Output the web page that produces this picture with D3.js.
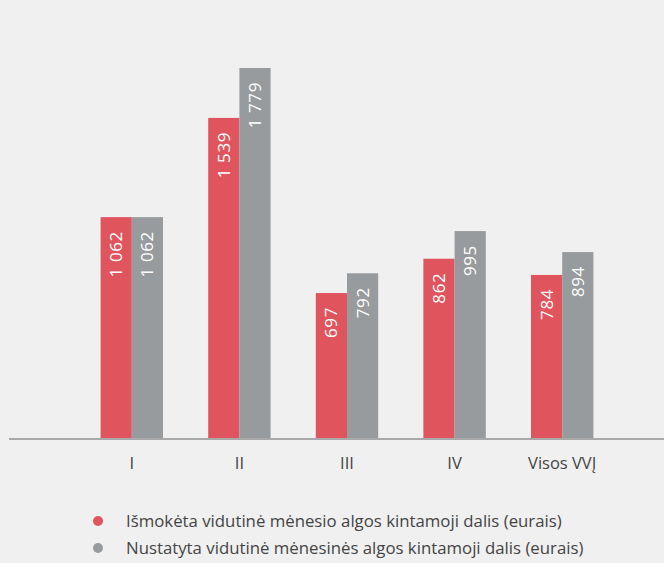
<!DOCTYPE html>
<html>
<head>
<meta charset="utf-8">
<script src="https://cdn.jsdelivr.net/npm/d3@7"></script>
<style>
  html, body { margin: 0; padding: 0; background: #f0f0f0; }
  svg { display: block; font-family: "Open Sans", Lato, sans-serif; }
</style>
</head>
<body>
<svg id="chart" width="664" height="563"></svg>
<script>
const categories = ['I', 'II', 'III', 'IV', 'Visos VVĮ'];
const paid = [1062, 1539, 697, 862, 784];
const set = [1062, 1779, 792, 995, 894];
const seriesNames = [
  'Išmokėta vidutinė mėnesio algos kintamoji dalis (eurais)',
  'Nustatyta vidutinė mėnesinės algos kintamoji dalis (eurais)'
];
const colors = ['#e0555d', '#989b9d'];

const svg = d3.select('#chart');
const baseY = 438;

const x = d3.scaleBand().domain(categories).range([78, 616]).paddingInner(0.42).paddingOuter(0.21);
const sub = d3.scaleBand().domain([0, 1]).range([0, x.bandwidth()]);
const y = d3.scaleLinear().domain([0, 1779]).range([baseY, 68]);

const fmt = v => d3.format(',')(v).replace(',', ' ');

const rows = categories.map((c, i) => ({ cat: c, vals: [paid[i], set[i]] }));

const groups = svg.selectAll('g.grp')
  .data(rows)
  .join('g')
  .attr('class', 'grp')
  .attr('transform', d => `translate(${x(d.cat)},0)`);

groups.selectAll('rect')
  .data(d => d.vals.map((v, k) => ({ v, k })))
  .join('rect')
  .attr('x', d => sub(d.k))
  .attr('width', sub.bandwidth())
  .attr('y', d => y(d.v))
  .attr('height', d => baseY - y(d.v))
  .attr('fill', d => colors[d.k]);

groups.selectAll('text.val')
  .data(d => d.vals.map((v, k) => ({ v, k })))
  .join('text')
  .attr('class', 'val')
  .attr('transform', d => `translate(${sub(d.k) + sub.bandwidth() / 2 + 6},${y(d.v) + 14}) rotate(-90)`)
  .attr('text-anchor', 'end')
  .attr('fill', '#fff')
  .attr('font-size', 17)
  .attr('letter-spacing', 0.6)
  .text(d => fmt(d.v));

// baseline
svg.append('line')
  .attr('x1', 9).attr('x2', 664)
  .attr('y1', baseY + 1).attr('y2', baseY + 1)
  .attr('stroke', '#a9a9a9')
  .attr('stroke-width', 2);

// category labels
svg.selectAll('text.cat')
  .data(categories)
  .join('text')
  .attr('class', 'cat')
  .attr('x', d => x(d) + x.bandwidth() / 2)
  .attr('y', 469)
  .attr('text-anchor', 'middle')
  .attr('fill', '#444')
  .attr('font-size', 16.5)
  .text(d => d);

// legend
const legend = svg.selectAll('g.leg')
  .data(seriesNames)
  .join('g')
  .attr('class', 'leg')
  .attr('transform', (d, i) => `translate(98,${521 + i * 27})`);

legend.append('circle')
  .attr('r', 5)
  .attr('fill', (d, i) => colors[i]);

legend.append('text')
  .attr('x', 28)
  .attr('y', 6)
  .attr('fill', '#444')
  .attr('font-size', 16.8)
  .text(d => d);
</script>
</body>
</html>
